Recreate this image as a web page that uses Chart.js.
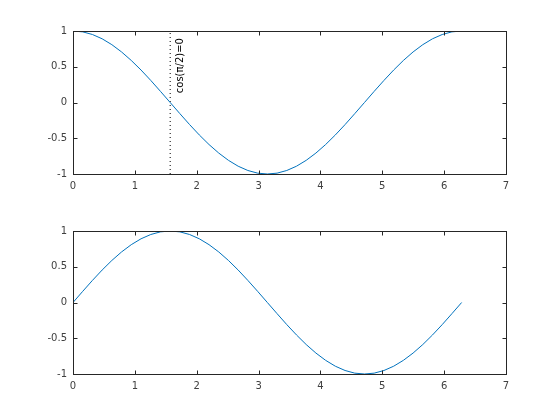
<!DOCTYPE html>
<html>
<head>
<meta charset="utf-8">
<title>cos / sin</title>
<script src="https://cdn.jsdelivr.net/npm/chart.js@4"></script>
<style>
  body { margin: 0; background: #fff; }
  #wrap { position: relative; width: 560px; height: 420px; }
  canvas { position: absolute; left: 0; }
  #topChart { top: 0; }
  #bottomChart { top: 210px; }
</style>
</head>
<body>
<div id="wrap">
  <canvas id="topChart" width="560" height="210"></canvas>
  <canvas id="bottomChart" width="560" height="210"></canvas>
</div>
<script>
// sample points along x (0 .. 2*pi)
const xValues = [0, 0.157, 0.314, 0.471, 0.628, 0.785, 0.942, 1.100, 1.257, 1.414,
    1.571, 1.728, 1.885, 2.042, 2.199, 2.356, 2.513, 2.670, 2.827, 2.985,
    3.142, 3.299, 3.456, 3.613, 3.770, 3.927, 4.084, 4.241, 4.398, 4.555,
    4.712, 4.869, 5.027, 5.184, 5.341, 5.498, 5.655, 5.812, 5.969, 6.126, 6.283];

const cosValues = [1, 0.988, 0.951, 0.891, 0.809, 0.707, 0.588, 0.454, 0.309, 0.156,
    0, -0.156, -0.309, -0.454, -0.588, -0.707, -0.809, -0.891, -0.951, -0.988,
    -1, -0.988, -0.951, -0.891, -0.809, -0.707, -0.588, -0.454, -0.309, -0.156,
    0, 0.156, 0.309, 0.454, 0.588, 0.707, 0.809, 0.891, 0.951, 0.988, 1];

const sinValues = [0, 0.156, 0.309, 0.454, 0.588, 0.707, 0.809, 0.891, 0.951, 0.988,
    1, 0.988, 0.951, 0.891, 0.809, 0.707, 0.588, 0.454, 0.309, 0.156,
    0, -0.156, -0.309, -0.454, -0.588, -0.707, -0.809, -0.891, -0.951, -0.988,
    -1, -0.988, -0.951, -0.891, -0.809, -0.707, -0.588, -0.454, -0.309, -0.156, 0];

// marker line at pi/2 and its label
const markerX = [1.571, 1.571];
const markerY = [-1, 1];
const markerLabel = 'cos(\u03C0/2)=0';
const labelPos = { x: 1.73, y: 0.13 };

const xTicks = { min: 0, max: 7, step: 1 };
const yTicks = { min: -1, max: 1, step: 0.5 };

const axisColor = '#262626';
const labelColor = '#404040';
const lineColor = '#0072BD';
const fontFamily = '"DejaVu Sans", "Liberation Sans", sans-serif';

function toPoints(xs, ys) {
    return xs.map((x, i) => ({ x: x, y: ys[i] }));
}

// box round the axes plus inward ticks on all four sides
const boxPlugin = {
    id: 'matlabBox',
    afterDraw(chart) {
        const ctx = chart.ctx;
        const a = chart.chartArea;
        const xs = chart.scales.x;
        const ys = chart.scales.y;
        const L = Math.round(a.left) + 0.5;
        const R = Math.round(a.right) + 0.5;
        const T = Math.round(a.top) + 0.5;
        const B = Math.round(a.bottom) + 0.5;
        const len = 4;

        ctx.save();
        ctx.strokeStyle = axisColor;
        ctx.lineWidth = 1;
        ctx.beginPath();
        xs.ticks.forEach(t => {
            const px = Math.round(xs.getPixelForValue(t.value)) + 0.5;
            ctx.moveTo(px, B); ctx.lineTo(px, B - len);
            ctx.moveTo(px, T); ctx.lineTo(px, T + len);
        });
        ys.ticks.forEach(t => {
            const py = Math.round(ys.getPixelForValue(t.value)) + 0.5;
            ctx.moveTo(L, py); ctx.lineTo(L + len, py);
            ctx.moveTo(R, py); ctx.lineTo(R - len, py);
        });
        ctx.stroke();
        ctx.strokeRect(L, T, R - L, B - T);

        const opts = chart.options.plugins.matlabBox || {};
        if (opts.label) {
            const px = xs.getPixelForValue(opts.label.x);
            const py = ys.getPixelForValue(opts.label.y);
            ctx.translate(px, py);
            ctx.rotate(-Math.PI / 2);
            ctx.fillStyle = '#000';
            ctx.font = '10px ' + fontFamily;
            ctx.textAlign = 'left';
            ctx.textBaseline = 'middle';
            ctx.fillText(opts.label.text, 0, 0);
        }
        ctx.restore();
    }
};

function makeChart(canvasId, datasets, padTop, xHeight, label) {
    const ctx = document.getElementById(canvasId).getContext('2d');
    return new Chart(ctx, {
        type: 'line',
        data: { datasets: datasets },
        options: {
            responsive: false,
            animation: false,
            layout: { padding: { top: padTop, right: 54, left: 0, bottom: 0 } },
            plugins: {
                legend: { display: false },
                tooltip: { enabled: false },
                matlabBox: { label: label }
            },
            scales: {
                x: {
                    type: 'linear',
                    min: xTicks.min,
                    max: xTicks.max,
                    grid: { display: false, drawTicks: false },
                    border: { display: false },
                    ticks: {
                        stepSize: xTicks.step,
                        color: labelColor,
                        padding: 6,
                        maxRotation: 0,
                        font: { family: fontFamily, size: 10 },
                        callback: v => String(v)
                    },
                    afterFit(scale) { scale.height = xHeight; }
                },
                y: {
                    min: yTicks.min,
                    max: yTicks.max,
                    grid: { display: false, drawTicks: false },
                    border: { display: false },
                    ticks: {
                        stepSize: yTicks.step,
                        color: labelColor,
                        padding: 6,
                        font: { family: fontFamily, size: 10 },
                        callback: v => String(v)
                    },
                    afterFit(scale) { scale.width = 73; }
                }
            }
        },
        plugins: [boxPlugin]
    });
}

makeChart('topChart', [
    {
        data: toPoints(xValues, cosValues),
        borderColor: lineColor,
        borderWidth: 1,
        pointRadius: 0,
        tension: 0
    },
    {
        data: toPoints(markerX, markerY),
        borderColor: '#000',
        borderWidth: 1,
        borderDash: [1, 3],
        pointRadius: 0
    }
], 31, 36, { x: labelPos.x, y: labelPos.y, text: markerLabel });

makeChart('bottomChart', [
    {
        data: toPoints(xValues, sinValues),
        borderColor: lineColor,
        borderWidth: 1,
        pointRadius: 0,
        tension: 0
    }
], 21, 46, null);
</script>
</body>
</html>
